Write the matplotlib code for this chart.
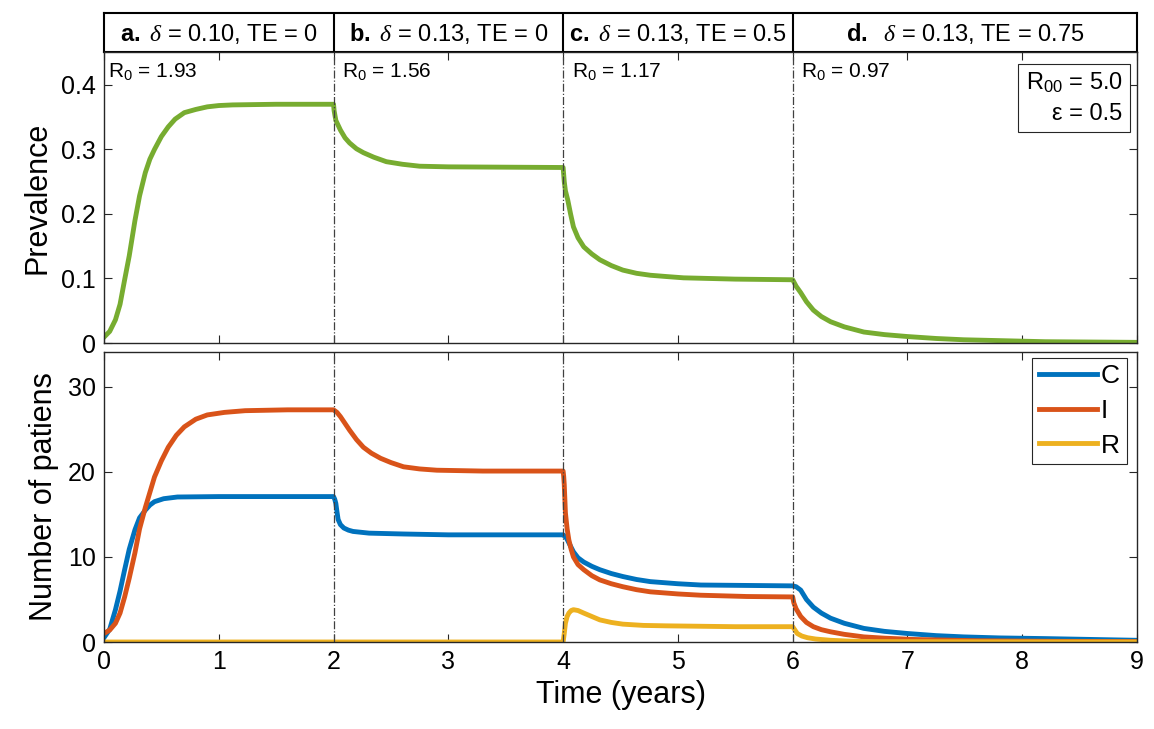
#!/usr/bin/env python3

import matplotlib
matplotlib.use("Agg")
import matplotlib.pyplot as plt

plt.rcParams['font.family'] = ['Liberation Sans', 'DejaVu Sans']
plt.rcParams['mathtext.fontset'] = 'custom'
plt.rcParams['mathtext.rm'] = 'Liberation Sans'
plt.rcParams['mathtext.bf'] = 'Liberation Sans:bold'
plt.rcParams['mathtext.it'] = 'Liberation Serif:italic'

# values
t_prev = [0, 0.05, 0.1, 0.14, 0.18, 0.22, 0.27, 0.31, 0.36, 0.4, 0.44, 0.5, 0.56,
          0.62, 0.7, 0.8, 0.9, 1.0, 1.12, 1.5, 2.0,
          2.005, 2.02, 2.06, 2.1, 2.14, 2.2, 2.26, 2.35, 2.46, 2.6, 2.75, 3.0, 4.0,
          4.01, 4.02, 4.04, 4.065, 4.09, 4.13, 4.18, 4.25, 4.32, 4.42, 4.52, 4.64,
          4.76, 4.9, 5.05, 5.5, 6.0,
          6.03, 6.07, 6.12, 6.18, 6.25, 6.33, 6.45, 6.62, 6.8, 7.0, 7.25, 7.49,
          8.2, 9.0]
prevalence = [0.009, 0.018, 0.036, 0.06, 0.098, 0.135, 0.19, 0.228, 0.264, 0.285, 0.30,
              0.32, 0.335, 0.347, 0.357, 0.362, 0.366, 0.368, 0.369, 0.37, 0.37,
              0.36, 0.345, 0.33, 0.318, 0.31, 0.301, 0.295, 0.288, 0.281, 0.277,
              0.274, 0.273, 0.272,
              0.25, 0.236, 0.222, 0.2, 0.18, 0.163, 0.149, 0.138, 0.129, 0.12, 0.113,
              0.108, 0.105, 0.103, 0.101, 0.099, 0.098,
              0.088, 0.078, 0.064, 0.051, 0.041, 0.033, 0.025, 0.017, 0.013, 0.010,
              0.007, 0.005, 0.002, 0.001]

t_c = [0, 0.05, 0.1, 0.14, 0.18, 0.22, 0.27, 0.31, 0.36, 0.4, 0.44, 0.52, 0.64,
       1.0, 2.0,
       2.01, 2.02, 2.03, 2.04, 2.06, 2.09, 2.13, 2.17, 2.31, 2.61, 3.0, 4.0,
       4.01, 4.03, 4.06, 4.09, 4.13, 4.18, 4.25, 4.32, 4.42, 4.52, 4.64, 4.76,
       5.0, 5.2, 5.6, 6.0,
       6.03, 6.07, 6.12, 6.18, 6.25, 6.33, 6.45, 6.62, 6.8, 7.0, 7.25, 7.49,
       7.8, 8.2, 8.6, 9.0]
patients_c = [0.5, 1.5, 3.8, 6.0, 8.5, 10.9, 13.2, 14.6, 15.5, 16.1, 16.5, 16.85, 17.05,
              17.1, 17.1,
              16.8, 16.3, 15.3, 14.4, 13.8, 13.4, 13.15, 13.0, 12.8, 12.7, 12.6, 12.6,
              12.5, 12.2, 11.4, 10.6, 9.9, 9.4, 8.9, 8.5, 8.05, 7.7, 7.35, 7.1,
              6.85, 6.7, 6.65, 6.6,
              6.5, 6.1, 5.0, 4.1, 3.4, 2.8, 2.2, 1.6, 1.25, 1.0, 0.75, 0.6,
              0.48, 0.4, 0.3, 0.2]

t_i = [0, 0.05, 0.1, 0.14, 0.18, 0.22, 0.27, 0.31, 0.36, 0.4, 0.44, 0.5, 0.56,
       0.63, 0.7, 0.8, 0.9, 1.05, 1.23, 1.6, 2.0,
       2.03, 2.06, 2.1, 2.14, 2.2, 2.26, 2.33, 2.41, 2.5, 2.61, 2.75, 2.9, 3.3, 4.0,
       4.005, 4.01, 4.02, 4.035, 4.05, 4.07, 4.09, 4.13, 4.18, 4.25, 4.32, 4.42,
       4.52, 4.64, 4.76, 5.0, 5.2, 5.6, 6.0,
       6.01, 6.03, 6.07, 6.12, 6.18, 6.25, 6.33, 6.45, 6.62, 6.8, 7.05, 7.6,
       8.3, 9.0]
patients_i = [1.0, 1.4, 2.2, 3.4, 5.3, 7.5, 10.5, 13.3, 15.8, 17.6, 19.4, 21.3, 22.9,
              24.3, 25.3, 26.2, 26.7, 27.0, 27.2, 27.3, 27.3,
              27.0, 26.5, 25.7, 24.9, 23.8, 22.9, 22.2, 21.6, 21.1, 20.6, 20.35, 20.2,
              20.1, 20.1,
              19.5, 18.5, 15.2, 13.3, 12.0, 10.9, 10.0, 9.1, 8.5, 7.8, 7.3, 6.85,
              6.5, 6.15, 5.9, 5.65, 5.5, 5.35, 5.3,
              4.6, 3.9, 3.0, 2.3, 1.8, 1.45, 1.2, 0.9, 0.6, 0.45, 0.3, 0.15,
              0.08, 0.05]

t_r = [0, 4.0, 4.01, 4.02, 4.035, 4.05, 4.07, 4.09, 4.13, 4.18, 4.25, 4.32, 4.42,
       4.52, 4.7, 4.9, 5.5, 6.0,
       6.02, 6.04, 6.08, 6.13, 6.2, 6.33, 6.5, 6.7, 9.0]
patients_r = [0, 0, 1.0, 2.2, 3.0, 3.4, 3.7, 3.8, 3.7, 3.4, 3.0, 2.6, 2.3,
              2.1, 1.95, 1.9, 1.8, 1.8,
              1.4, 1.0, 0.7, 0.5, 0.35, 0.2, 0.1, 0.05, 0]

switch_times = [2, 4, 6]
box_starts = [0, 2, 4, 6]
box_ends = [2, 4, 6, 9]
box_letters = ['a.', 'b.', 'c.', 'd.']
box_texts = [r' $\delta$ = 0.10, TE = 0', r' $\delta$ = 0.13, TE = 0',
             r' $\delta$ = 0.13, TE = 0.5', r'  $\delta$ = 0.13, TE = 0.75']
r0_x = [0.035, 2.07, 4.08, 6.07]
r0_values = ['1.93', '1.56', '1.17', '0.97']

GREEN = '#77ac30'
BLUE = '#0072bd'
ORANGE = '#d95319'
YELLOW = '#edb120'
AXC = '#262626'


def style_axes(ax):
    for s in ax.spines.values():
        s.set_color(AXC)
        s.set_linewidth(1.0)
    ax.tick_params(direction='in', top=True, right=True, length=6,
                   color=AXC, labelsize=18, pad=6)


def main():
    fig = plt.figure(figsize=(11.54, 7.29), dpi=100)
    left, width = 0.0901, 0.8952

    # header boxes
    hax = fig.add_axes([left, 1 - 52 / 729, width, 39 / 729])
    hax.set_xlim(0, 9)
    hax.set_ylim(0, 1)
    hax.set_xticks([])
    hax.set_yticks([])
    for s in hax.spines.values():
        s.set_linewidth(1.5)
    for x in switch_times:
        hax.axvline(x, color='black', lw=1.5)
    for a, b, letter, txt in zip(box_starts, box_ends, box_letters, box_texts):
        hax.text((a + b) / 2, 0.47, r'$\mathbf{' + letter + '}$' + txt,
                 ha='center', va='center', fontsize=17)

    # prevalence panel
    ax1 = fig.add_axes([left, 1 - 343 / 729, width, 291 / 729])
    ax1.plot(t_prev, prevalence, color=GREEN, lw=3.5)
    ax1.set_xlim(0, 9)
    ax1.set_ylim(0, 0.451)
    ax1.set_xticks(range(10))
    ax1.set_xticklabels([])
    ax1.set_yticks([0, 0.1, 0.2, 0.3, 0.4])
    ax1.set_yticklabels(['0', '0.1', '0.2', '0.3', '0.4'])
    ax1.set_ylabel('Prevalence', fontsize=22, labelpad=6)
    for x in switch_times:
        ax1.axvline(x, color='#404040', lw=0.9, ls='-.')
    for x, v in zip(r0_x, r0_values):
        ax1.text(x, 0.437, 'R$_0$ = ' + v, ha='left', va='top', fontsize=15)
    ax1.text(0.986, 0.935, 'R$_{00}$ = 5.0\n' + 'ε = 0.5', transform=ax1.transAxes,
             ha='right', va='top', fontsize=17, linespacing=1.45,
             bbox=dict(boxstyle='square,pad=0.3', fc='white', ec=AXC, lw=0.8))
    style_axes(ax1)

    # patients panel
    ax2 = fig.add_axes([left, 1 - 642 / 729, width, 290 / 729])
    ax2.plot(t_c, patients_c, color=BLUE, lw=3.5, label='C')
    ax2.plot(t_i, patients_i, color=ORANGE, lw=3.5, label='I')
    ax2.plot(t_r, patients_r, color=YELLOW, lw=3.5, label='R')
    ax2.set_xlim(0, 9)
    ax2.set_ylim(0, 34.1)
    ax2.set_xticks(range(10))
    ax2.set_yticks([0, 10, 20, 30])
    ax2.set_xlabel('Time (years)', fontsize=22, labelpad=4)
    ax2.set_ylabel('Number of patiens', fontsize=22, labelpad=6)
    for x in switch_times:
        ax2.axvline(x, color='#404040', lw=0.9, ls='-.')
    leg = ax2.legend(loc='upper right', fontsize=19, handlelength=2.2,
                     handletextpad=0.15, borderpad=0.25, labelspacing=0.4,
                     borderaxespad=0, fancybox=False, framealpha=1, edgecolor=AXC,
                     bbox_to_anchor=(0.99, 0.98))
    leg.get_frame().set_linewidth(0.8)
    style_axes(ax2)

    fig.savefig('out.png', dpi=100)


if __name__ == "__main__":
    main()
